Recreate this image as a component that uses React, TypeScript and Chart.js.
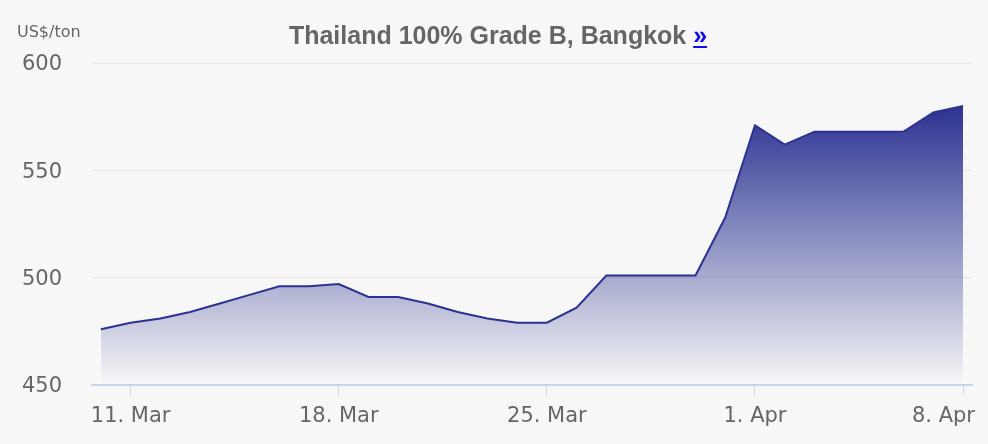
import { useEffect, useRef } from "react";
import { Chart, registerables } from "chart.js";

Chart.register(...registerables);

const dates = [
  "10. Mar", "11. Mar", "12. Mar", "13. Mar", "14. Mar", "15. Mar", "16. Mar", "17. Mar",
  "18. Mar", "19. Mar", "20. Mar", "21. Mar", "22. Mar", "23. Mar", "24. Mar", "25. Mar",
  "26. Mar", "27. Mar", "28. Mar", "29. Mar", "30. Mar", "31. Mar", "1. Apr", "2. Apr",
  "3. Apr", "4. Apr", "5. Apr", "6. Apr", "7. Apr", "8. Apr",
];
const prices = [
  476, 479, 481, 484, 488, 492, 496, 496, 497, 491, 491, 488, 484, 481, 479, 479,
  486, 501, 501, 501, 501, 528, 571, 562, 568, 568, 568, 568, 577, 580,
];
const tickLabels = ["11. Mar", "18. Mar", "25. Mar", "1. Apr", "8. Apr"];
const yMin = 450;
const yMax = 600;
const yStep = 50;
const titleText = "Thailand 100% Grade B, Bangkok ";
const linkText = "»";
const unitText = "US$/ton";

const LINE = "rgb(43,50,145)";
const FILL_TOP = "rgba(43,50,145,1)";
const FILL_BOTTOM = "rgba(43,50,145,0)";
const BG = "#f7f7f7";
const TEXT = "#666666";

export default function App() {
  const ref = useRef<HTMLCanvasElement>(null);

  useEffect(() => {
    document.body.style.margin = "0";
    document.body.style.background = BG;
    const canvas = ref.current;
    if (!canvas) return;
    const tickIdx = tickLabels.map((l) => dates.indexOf(l));

    const overlay = {
      id: "overlay",
      beforeDraw(chart: any) {
        const ctx = chart.ctx;
        ctx.save();
        ctx.fillStyle = BG;
        ctx.fillRect(0, 0, chart.width, chart.height);
        ctx.restore();
      },
      afterDraw(chart: any) {
        const ctx = chart.ctx;
        ctx.save();
        // unit label
        ctx.font = '16px "DejaVu Sans"';
        ctx.fillStyle = TEXT;
        ctx.textBaseline = "alphabetic";
        ctx.textAlign = "left";
        ctx.fillText(unitText, 17, 36.5);
        // x-axis labels (kept inside the canvas like the reference)
        ctx.font = '21px "DejaVu Sans"';
        const xs = chart.scales.x;
        const rightLimit = chart.width - 13;
        tickIdx.forEach((idx, i) => {
          const label = tickLabels[i];
          const w = ctx.measureText(label).width;
          let left = xs.getPixelForValue(idx) - w / 2;
          if (left + w > rightLimit) left = rightLimit - w;
          if (left < 0) left = 0;
          ctx.fillText(label, left, 421.5);
        });
        // title
        ctx.font = 'bold 25px "Liberation Sans"';
        const w1 = ctx.measureText(titleText).width;
        const w2 = ctx.measureText(linkText).width;
        const x0 = chart.width / 2 - (w1 + w2) / 2 + 4;
        ctx.fillStyle = TEXT;
        ctx.fillText(titleText, x0, 44);
        ctx.fillStyle = "#1010e6";
        ctx.fillText(linkText, x0 + w1, 44);
        ctx.fillRect(x0 + w1, 46, w2, 2);
        ctx.restore();
      },
    };

    const chart = new Chart(canvas, {
      type: "line",
      data: {
        datasets: [
          {
            data: prices.map((y, i) => ({ x: i, y })),
            borderColor: LINE,
            borderWidth: 2,
            pointRadius: 0,
            pointHoverRadius: 0,
            tension: 0,
            fill: "start",
            backgroundColor: (c: any) => {
              const ch = c.chart;
              const area = ch.chartArea;
              if (!area) return "rgba(43,50,145,0.4)";
              const top = ch.scales.y.getPixelForValue(Math.max(...prices));
              const g = ch.ctx.createLinearGradient(0, top, 0, area.bottom);
              g.addColorStop(0, FILL_TOP);
              g.addColorStop(1, FILL_BOTTOM);
              return g;
            },
          },
        ],
      },
      options: {
        animation: false,
        responsive: false,
        devicePixelRatio: 1,
        layout: { padding: { top: 63, right: 16, left: 0, bottom: 0 } },
        plugins: {
          legend: { display: false },
          tooltip: { enabled: false },
          title: { display: false },
        },
        scales: {
          x: {
            type: "linear",
            min: -0.3,
            max: dates.length - 1 + 0.3,
            afterBuildTicks: (s: any) => {
              s.ticks = tickIdx.map((v) => ({ value: v }));
            },
            afterFit: (s: any) => {
              s.height = 59;
              s.paddingLeft = 0;
              s.paddingRight = 0;
            },
            grid: {
              display: true,
              drawOnChartArea: false,
              drawTicks: true,
              tickLength: 10,
              color: "#ccd6eb",
            },
            border: { display: true, color: "#ccd6eb", width: 2 },
            ticks: { display: false, autoSkip: false, maxRotation: 0 },
          },
          y: {
            min: yMin,
            max: yMax,
            afterFit: (s: any) => {
              s.width = 92;
            },
            grid: { color: "#e6e6e6", drawTicks: false, lineWidth: 1 },
            border: { display: false },
            ticks: {
              stepSize: yStep,
              padding: 30,
              labelOffset: 2,
              color: TEXT,
              font: { family: "DejaVu Sans", size: 21 },
            },
          },
        },
      },
      plugins: [overlay],
    } as any);

    return () => chart.destroy();
  }, []);

  return (
    <div style={{ width: 988, height: 444, background: BG }}>
      <canvas ref={ref} width={988} height={444} style={{ display: "block", width: 988, height: 444 }} />
    </div>
  );
}
